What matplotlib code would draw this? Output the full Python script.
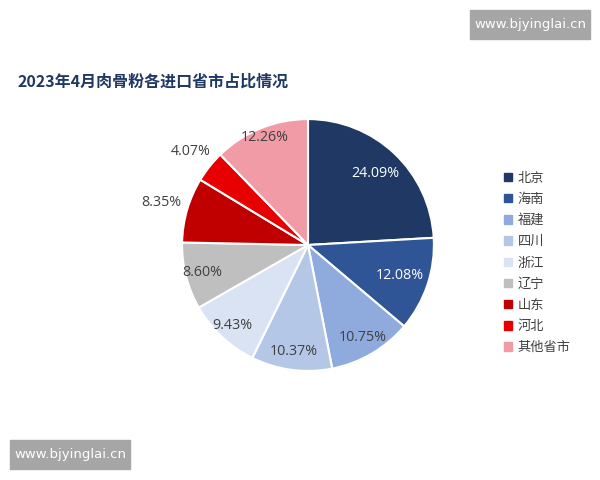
import numpy as np
import matplotlib
matplotlib.use("Agg")
import matplotlib.pyplot as plt
from matplotlib.patches import Rectangle

plt.rcParams['font.family'] = ['Noto Sans CJK SC', 'DejaVu Sans']

provinces = ['北京', '海南', '福建', '四川', '浙江', '辽宁', '山东', '河北', '其他省市']
shares = [24.09, 12.08, 10.75, 10.37, 9.43, 8.60, 8.35, 4.07, 12.26]
colors = ['#203864', '#2f5597', '#8faadc', '#b4c7e7', '#dae3f3',
          '#bfbfbf', '#c00000', '#e60000', '#f19ba6']
label_dist = [0.78, 0.77, 0.85, 0.85, 0.88, 0.87, 1.21, 1.19, 0.92]
label_colors = ['white', 'white', '#404040', '#404040', '#404040',
                '#404040', '#404040', '#404040', '#404040']

fig = plt.figure(figsize=(6, 4.8), dpi=100)
fig.patch.set_facecolor('white')

# pie axes: center ~ (308, 245) px, radius ~126 px
ax = fig.add_axes([(308 - 170) / 600, 1 - (245 + 170) / 480, 340 / 600, 340 / 480])

wedges, _ = ax.pie(shares, colors=colors, startangle=90, counterclock=False,
                   radius=1.0, wedgeprops=dict(edgecolor='white', linewidth=1.5))
ax.set_xlim(-1.35, 1.35)
ax.set_ylim(-1.35, 1.35)
ax.set_aspect('equal')
ax.axis('off')

for w, v, d, c in zip(wedges, shares, label_dist, label_colors):
    mid = np.deg2rad((w.theta1 + w.theta2) / 2)
    ax.text(d * np.cos(mid), d * np.sin(mid), f'{v:.2f}%', ha='center', va='center',
            fontsize=10.3, color=c, family='Open Sans')

# title
fig.text(18 / 600, 1 - 82 / 480, '2023年4月肉骨粉各进口省市占比情况', fontsize=11.5,
         fontweight='bold', color='#1f3864', va='center', ha='left')

# legend
handles = [Rectangle((0, 0), 1, 1, color=c) for c in colors]
fig.legend(handles, provinces, loc='center left', bbox_to_anchor=(492 / 600, 1 - 263 / 480),
           frameon=False, fontsize=9.5, handlelength=0.6, handleheight=0.6,
           handletextpad=0.45, labelspacing=0.62, labelcolor='#404040')

# watermarks
for x0, y0 in [(470, 10), (10, 440)]:
    fig.patches.append(Rectangle((x0 / 600, 1 - (y0 + 29) / 480), 120 / 600, 29 / 480,
                                 transform=fig.transFigure, color='#a6a6a6', zorder=5))
    fig.text((x0 + 60) / 600, 1 - (y0 + 14.5) / 480, 'www.bjyinglai.cn', color='white',
             fontsize=9.5, ha='center', va='center', zorder=6, family='DejaVu Sans')

fig.savefig('out.png', dpi=100)
